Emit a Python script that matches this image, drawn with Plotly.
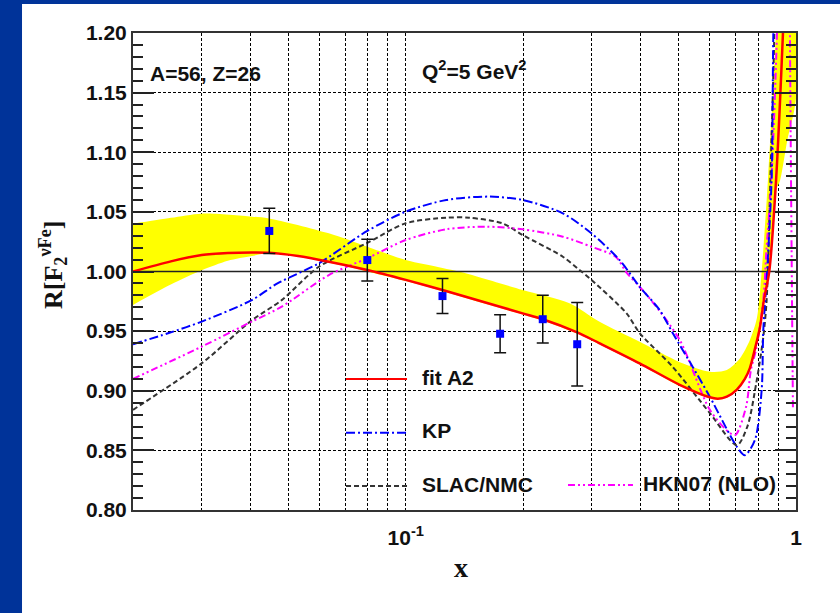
import numpy as np
import plotly.graph_objects as go

# ---- data -------------------------------------------------------------
# "fit A2" central curve
fit_x = [0.020, 0.025, 0.030, 0.035, 0.0403, 0.0446, 0.053, 0.0635, 0.0797, 0.100,
         0.1242, 0.160, 0.1993, 0.2244, 0.275, 0.313, 0.3975, 0.5035, 0.6014, 0.6305,
         0.665, 0.7056, 0.7396, 0.7618, 0.7846, 0.8083, 0.8275, 0.854, 0.8884, 0.926, 0.95]
fit_y = [1.000, 1.0085, 1.0138, 1.0155, 1.0160, 1.0158, 1.013, 1.0082, 1.0013, 0.993,
         0.9845, 0.974, 0.9649, 0.960, 0.949, 0.940, 0.923, 0.905, 0.8945, 0.8933,
         0.8950, 0.901, 0.910, 0.919, 0.935, 0.953, 0.976, 1.000, 1.075, 1.200, 1.30]

# uncertainty band of fit A2: upper and lower edges
band_up_x = [0.020, 0.025, 0.030, 0.0403, 0.0446, 0.0635, 0.0797, 0.100, 0.1242, 0.1377,
             0.1993, 0.2627, 0.313, 0.3975, 0.5035, 0.6014, 0.665, 0.7181, 0.7618, 0.794,
             0.8166, 0.8474, 0.8884, 0.93, 1.0]
band_up_y = [1.040, 1.045, 1.0485, 1.046, 1.0445, 1.032, 1.0208, 1.0096, 1.003, 0.9998,
             0.9845, 0.9733, 0.958, 0.941, 0.924, 0.916, 0.9174, 0.927, 0.9425, 0.961,
             1.000, 1.077, 1.200, 1.35, 1.45]
band_lo_x = [0.020, 0.025, 0.030, 0.035, 0.0403, 0.0446, 0.053, 0.0635, 0.0797, 0.100,
             0.1242, 0.160, 0.1993, 0.2244, 0.275, 0.313, 0.3975, 0.5035, 0.6014, 0.6305,
             0.665, 0.7056, 0.7396, 0.7618, 0.7846, 0.8083, 0.8275, 0.854, 0.8884, 0.91,
             0.95, 1.0]
band_lo_y = [0.972, 0.989, 1.001, 1.009, 1.013, 1.0152, 1.0125, 1.0075, 1.000, 0.992,
             0.9835, 0.973, 0.964, 0.959, 0.948, 0.939, 0.922, 0.904, 0.8937, 0.8925,
             0.8942, 0.900, 0.909, 0.918, 0.934, 0.952, 0.975, 0.999, 1.068, 1.076,
             1.110, 1.145]

# KP
kp_x = [0.020, 0.0247, 0.030, 0.0403, 0.0469, 0.0599, 0.0797, 0.100, 0.127, 0.1637,
        0.1993, 0.2526, 0.299, 0.3531, 0.3975, 0.4473, 0.4831, 0.5437, 0.6014, 0.7056,
        0.7396, 0.7846, 0.8166, 0.8245, 0.8409, 0.8658, 0.8748, 0.90]
kp_y = [0.939, 0.9484, 0.958, 0.976, 0.990, 1.0069, 1.034, 1.0502, 1.060, 1.0628,
        1.060, 1.0488, 1.032, 1.0096, 0.9872, 0.9677, 0.9484, 0.920, 0.895, 0.853,
        0.846, 0.8586, 0.9006, 0.9509, 0.993, 1.0768, 1.200, 1.40]

# SLAC/NMC
slac_x = [0.020, 0.030, 0.0403, 0.0481, 0.0599, 0.0797, 0.100, 0.127, 0.1454, 0.1768,
          0.1993, 0.2526, 0.2787, 0.299, 0.368, 0.3975, 0.4831, 0.6014, 0.7056, 0.7505,
          0.7906, 0.8245, 0.8409, 0.86, 0.88, 0.90]
slac_y = [0.884, 0.923, 0.959, 0.976, 1.004, 1.024, 1.0404, 1.0451, 1.0451, 1.0404,
          1.0306, 1.0124, 1.0013, 0.9929, 0.9649, 0.9484, 0.920, 0.8813, 0.8544, 0.870,
          0.906, 0.945, 0.976, 1.080, 1.200, 1.40]

# HKN07 (NLO)
hkn_x = [0.020, 0.030, 0.0403, 0.0481, 0.0635, 0.0797, 0.100, 0.127, 0.1606, 0.1993,
         0.2526, 0.299, 0.345, 0.368, 0.3975, 0.430, 0.5035, 0.6014, 0.677, 0.700,
         0.745, 0.7663, 0.7906, 0.8245, 0.8409, 0.8658, 0.8938, 0.92, 0.96, 0.965, 0.982]
hkn_y = [0.910, 0.937, 0.958, 0.9705, 0.997, 1.0111, 1.0264, 1.0354, 1.0376, 1.0354,
         1.0292, 1.0208, 1.0124, 0.999, 0.9872, 0.974, 0.9426, 0.884, 0.8645, 0.863,
         0.8866, 0.9174, 0.935, 0.9761, 1.020, 1.080, 1.200, 1.40, 1.40, 1.200, 0.886]

# measured ratio with errors
pts_x = [0.0447, 0.0797, 0.1242, 0.1745, 0.2244, 0.275]
pts_y = [1.034, 1.0096, 0.9794, 0.9478, 0.960, 0.939]
pts_err = [0.019, 0.0175, 0.0147, 0.016, 0.020, 0.035]

# axes
x_grid = [0.02, 0.03, 0.04, 0.05, 0.06, 0.07, 0.08, 0.09,
          0.1, 0.2, 0.3, 0.4, 0.5, 0.6, 0.7, 0.8, 0.9, 1.0]
x_labels = {0.1: "10<sup>-1</sup>", 1.0: "1"}
y_ticks = [0.80, 0.85, 0.90, 0.95, 1.00, 1.05, 1.10, 1.15, 1.20]
x_range = (0.02, 1.0)
unity = 1.0

SANS = "Liberation Sans, Arial, sans-serif"
SERIF = "Liberation Serif, Times New Roman, serif"
SMOOTH = 0.8

fig = go.Figure()

# yellow band
fig.add_trace(go.Scatter(
    x=band_up_x + band_lo_x[::-1], y=band_up_y + band_lo_y[::-1],
    fill="toself", fillcolor="#ffff00", mode="lines",
    line=dict(width=0, shape="spline", smoothing=SMOOTH),
    hoverinfo="skip", showlegend=False))

# R = 1 reference line
fig.add_trace(go.Scatter(x=list(x_range), y=[unity, unity], mode="lines",
                         line=dict(color="#222222", width=1.6), showlegend=False))

fig.add_trace(go.Scatter(x=slac_x, y=slac_y, mode="lines", name="SLAC/NMC",
                         line=dict(color="#333333", width=2, dash="5px,3px",
                                   shape="spline", smoothing=SMOOTH), showlegend=False))
fig.add_trace(go.Scatter(x=hkn_x, y=hkn_y, mode="lines", name="HKN07 (NLO)",
                         line=dict(color="#ff00ff", width=2, dash="7px,3px,2px,3px,2px,3px",
                                   shape="spline", smoothing=SMOOTH), showlegend=False))
fig.add_trace(go.Scatter(x=kp_x, y=kp_y, mode="lines", name="KP",
                         line=dict(color="#0000ff", width=2, dash="9px,3px,2px,3px",
                                   shape="spline", smoothing=SMOOTH), showlegend=False))
fig.add_trace(go.Scatter(x=fit_x, y=fit_y, mode="lines", name="fit A2",
                         line=dict(color="#ff0000", width=2.5, shape="spline",
                                   smoothing=SMOOTH), showlegend=False))

fig.add_trace(go.Scatter(
    x=pts_x, y=pts_y, mode="markers",
    marker=dict(symbol="square", size=8, color="#0000ff", line=dict(width=0)),
    error_y=dict(type="data", array=pts_err, visible=True, color="#111111",
                 thickness=1.5, width=6),
    showlegend=False))

# legend drawn by hand, in plot-area coordinates
legend_rows = [
    ("fit A2", "#ff0000", "solid", 0.3213, 0.4133, 0.2746, 0.4329),
    ("KP", "#0000ff", "9px,3px,2px,3px", 0.3213, 0.4133, 0.1620, 0.4329),
    ("SLAC/NMC", "#333333", "5px,3px", 0.3213, 0.4133, 0.0503, 0.4329),
    ("HKN07 (NLO)", "#ff00ff", "7px,3px,2px,3px,2px,3px", 0.6561, 0.7541, 0.0524, 0.7662),
]
shapes = []
annotations = []
for label, col, dash, x0, x1, yy, xt in legend_rows:
    shapes.append(dict(type="line", xref="paper", yref="paper", x0=x0, x1=x1, y0=yy, y1=yy,
                       line=dict(color=col, width=2, dash=dash)))
    annotations.append(dict(xref="paper", yref="paper", x=xt, y=yy + 0.004, text=label,
                            showarrow=False, xanchor="left", yanchor="middle",
                            font=dict(family=SANS, size=21, color="#111111", weight="bold")))

# slide background strips
shapes.append(dict(type="rect", xref="paper", yref="paper", x0=-0.25, x1=-0.1674, y0=-0.3,
                   y1=1.1, fillcolor="#003399", line=dict(width=0), layer="below"))
shapes.append(dict(type="rect", xref="paper", yref="paper", x0=-0.25, x1=1.1, y0=1.0608,
                   y1=1.1, fillcolor="#003399", line=dict(width=0), layer="below"))

annotations += [
    dict(xref="paper", yref="paper", x=0.0226, y=0.916, text="A=56, Z=26", showarrow=False,
         xanchor="left", yanchor="middle",
         font=dict(family=SANS, size=21, color="#111111", weight="bold")),
    dict(xref="paper", yref="paper", x=0.4329, y=0.922, text="Q<sup>2</sup>=5 GeV<sup>2</sup>",
         showarrow=False, xanchor="left", yanchor="middle",
         font=dict(family=SANS, size=21, color="#111111", weight="bold")),
    dict(xref="paper", yref="paper", x=-0.1207, y=0.5136,
         text="R[F<sub>2</sub><sup>νFe</sup>]", textangle=-90, showarrow=False,
         xanchor="center", yanchor="middle",
         font=dict(family=SERIF, size=26, color="#111111", weight="bold")),
    dict(xref="paper", yref="paper", x=0.494, y=-0.12, text="x", showarrow=False,
         xanchor="center", yanchor="middle",
         font=dict(family=SERIF, size=28, color="#111111", weight="bold")),
]

fig.update_xaxes(
    type="log", range=[np.log10(x_range[0]), np.log10(x_range[1])],
    tickmode="array", tickvals=x_grid,
    ticktext=[x_labels.get(v, "") for v in x_grid],
    ticks="", showgrid=True, gridcolor="#000000", gridwidth=1.2, griddash="3px,2px",
    showline=True, linecolor="#333333", linewidth=2, mirror=True,
    ticklabelstandoff=8,
    tickfont=dict(family=SANS, size=21, color="#111111", weight="bold"),
    zeroline=False)
fig.update_yaxes(
    range=[0.8, 1.2], tickmode="array", tickvals=y_ticks,
    ticktext=[f"{v:.2f}" for v in y_ticks],
    ticks="inside", ticklen=21, tickwidth=1.5, tickcolor="#222222",
    minor=dict(dtick=0.01, ticks="inside", ticklen=10, tickwidth=1.5, tickcolor="#222222",
               showgrid=False),
    showgrid=True, gridcolor="#000000", gridwidth=1.2, griddash="3px,2px",
    showline=True, linecolor="#333333", linewidth=2, mirror="ticks",
    tickfont=dict(family=SANS, size=21, color="#111111", weight="bold"),
    zeroline=False)

fig.update_layout(
    width=840, height=613,
    margin=dict(l=133, r=44, t=33, b=103),
    paper_bgcolor="white", plot_bgcolor="white",
    shapes=shapes, annotations=annotations, showlegend=False)

fig.write_html("out.html")
